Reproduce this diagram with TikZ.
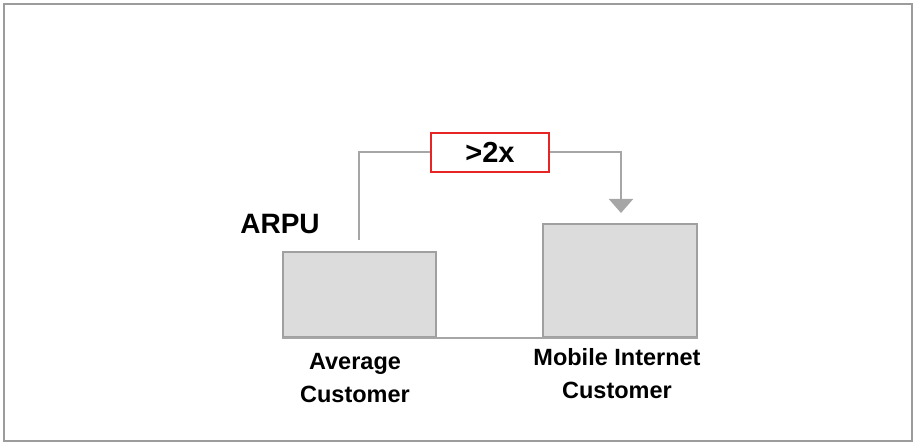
\documentclass[tikz,border=0pt]{standalone}
\usepackage{fontspec}
\setmainfont{Liberation Sans}
\usetikzlibrary{arrows.meta}
\definecolor{framegray}{HTML}{9C9C9C}
\definecolor{bargray}{HTML}{DCDCDC}
\definecolor{barline}{HTML}{A0A0A0}
\definecolor{linkgray}{HTML}{A6A6A6}
\definecolor{boxred}{HTML}{E82525}
\tikzset{
  bar/.style={draw=barline, fill=bargray, line width=2pt, inner sep=0pt},
  link/.style={draw=linkgray, line width=2pt},
  tagbox/.style={draw=boxred, line width=1.8pt, fill=white, inner sep=0pt,
    minimum width=118pt, minimum height=39pt, font=\fontsize{29}{31}\selectfont\bfseries},
  label/.style={align=center, font=\fontsize{23.5}{33}\selectfont\bfseries, inner sep=0pt}
}
\begin{document}
\begin{tikzpicture}[x=1pt,y=-1pt]
\useasboundingbox (0,0) rectangle (914,443);
\draw[draw=framegray, line width=2pt] (4,4) rectangle (912,441);
\node[bar, minimum width=153pt, minimum height=85pt] (avg) at (359.5,294.5) {};
\node[bar, minimum width=154pt, minimum height=113pt] (mob) at (620,280.5) {};
\draw[link] (avg.south west) -- (mob.south east);
\node[tagbox] (tag) at (490,152.5) {>2x};
\coordinate (start) at (359,240);
\coordinate (tip) at (621,213);
\draw[link] (start) |- (tag.west);
\draw[link, -{Triangle[width=24pt,length=14pt]}, color=linkgray] (tag.east) -| (tip);
\node[font=\fontsize{28}{30}\selectfont\bfseries, inner sep=0pt] (arpu) at (280,224) {ARPU};
\node[label] (avglab) at (355,378) {Average\\Customer};
\node[label] (moblab) at (617,374) {Mobile Internet\\Customer};
\end{tikzpicture}
\end{document}
